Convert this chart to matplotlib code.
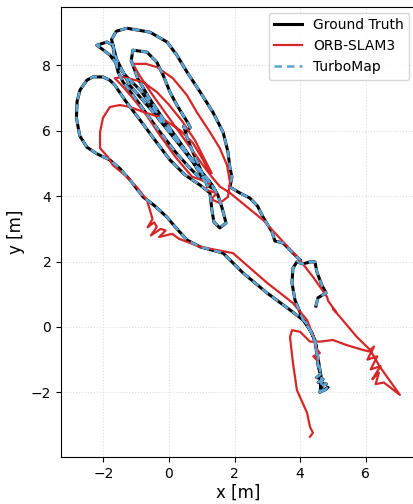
import numpy as np
import matplotlib
matplotlib.use("Agg")
import matplotlib.pyplot as plt

# Ground truth trajectory (x, y in metres)
gt_x = [4.48, 4.54, 4.79, 4.66, 4.51, 4.45, 4.30, 4.09, 3.90, 3.78, 3.75, 3.84, 4.09,
        4.36, 4.48, 4.50, 4.55, 4.62, 4.50, 4.70, 4.55, 4.80, 4.62, 4.72, 4.85, 4.60, 4.66,
        4.55, 4.45, 4.20, 4.09,
        3.69, 2.99, 2.26, 1.65, 0.95, 0.55, 0.20, -0.06, -0.45, -0.79, -1.19, -1.50, -1.80,
        -2.20, -2.50, -2.72, -2.82, -2.80, -2.71, -2.50, -2.32, -2.01, -1.80, -1.65,
        -1.34, -0.88, -0.43, 0.03, 0.49, 0.95, 1.25,
        1.31, 1.37, 1.55, 1.74, 1.62, 1.49, 1.31,
        0.95, 0.49, 0.03, -0.43, -0.88, -1.34, -1.80, -2.10, -2.20, -1.89, -1.71,
        -1.65, -1.55, -1.40, -1.10, -0.70, -0.30, 0.20, 0.60, 0.90, 1.10,
        0.70, 0.30, -0.20, -0.60, -0.95, -1.15, -1.10, -0.67, -0.37, -0.18, 0.03, 0.24,
        0.43, 0.58, 0.65, 0.55, 0.45, 0.55, 0.75, 0.95, 1.16, 1.40, 1.20,
        1.00, 0.30, -0.50, -1.20, -1.60, -1.75, -1.60, -1.28, -0.58, -0.06, 0.24, 0.55,
        0.95, 1.34, 1.65, 1.80, 1.86, 1.92, 1.86,
        2.16, 2.47, 2.70, 2.87, 3.14, 3.23, 3.48, 3.78, 4.00]
gt_y = [0.64, 0.89, 1.04, 1.28, 1.68, 1.99, 1.99, 1.93, 1.99, 1.80, 1.35, 0.83, 0.21,
        -0.18, -0.55, -0.80, -1.20, -1.45, -1.55, -1.60, -1.70, -1.75, -1.80, -1.95, -1.85,
        -2.00, -1.65, -1.00, -0.40, 0.10, 0.21,
        0.52, 1.04, 1.65, 2.26, 2.45, 2.66, 3.05, 3.36, 3.72, 3.98, 4.50, 4.85, 5.11,
        5.30, 5.50, 5.85, 6.40, 6.90, 7.25, 7.55, 7.65, 7.65, 7.55, 7.40,
        6.94, 6.33, 5.72, 5.11, 4.65, 4.34, 4.10,
        3.58, 3.21, 3.03, 3.18, 3.64, 4.04, 4.34,
        4.80, 5.41, 6.02, 6.64, 7.25, 7.71, 8.32, 8.55, 8.62, 8.72, 8.62,
        8.20, 7.80, 7.50, 7.10, 6.55, 6.00, 5.35, 4.90, 4.60, 4.45,
        5.10, 5.70, 6.40, 7.00, 7.60, 8.15, 8.47, 8.41, 8.10, 7.71, 7.19, 6.79,
        6.48, 6.24, 6.10, 6.00, 6.15, 5.80, 5.30, 4.86, 4.34, 4.20, 4.50,
        4.70, 5.60, 6.60, 7.40, 8.20, 8.80, 9.05, 9.14, 9.02, 8.72, 8.32, 7.80,
        7.19, 6.57, 5.96, 5.35, 4.86, 4.59, 4.28,
        4.10, 3.94, 3.70, 3.36, 2.91, 2.63, 2.57, 2.26, 2.05]

# TurboMap estimate: overlaps ground truth at this scale
turbo_x = gt_x
turbo_y = gt_y

# ORB-SLAM3 estimate
orb_x = [4.30, 4.39, 4.30, 4.21, 3.90, 3.78, 3.69, 3.75, 4.00, 4.30, 4.60, 5.00, 5.40,
         5.90, 6.10, 6.25, 6.05, 6.35, 6.15, 6.45, 6.20, 6.40, 6.30, 6.55, 7.04,
         6.43, 6.13, 5.73, 5.21, 5.00, 5.10, 4.85, 4.82, 4.39, 3.99, 2.87, 1.86, 1.55,
         1.30, 1.00, 0.50, 0.00, -0.50, -0.90, -1.10, -0.70, -0.37, 0.12, 0.55, 0.85,
         1.25, 1.55, 1.77, 1.86, 1.80, 1.55, 1.30, 1.45, 1.10, 1.25, 0.70, 0.20,
         -0.30, -0.70, -1.10, -1.40, -1.65, -1.40, -0.79, -0.37, 0.00, 0.40, 0.80, 1.10,
         1.30, 1.25, 1.04, 0.73, 0.34, -0.27, -0.67, -1.19, -1.49, -1.80, -2.01, -2.10,
         -2.10, -1.86, -1.71, -1.28, -0.98, -0.67, -0.50, -0.65, -0.45, -0.37, -0.55,
         -0.25, -0.10, -0.30, 0.10, 0.30, 0.95, 1.95, 2.99, 3.78, 4.21, 4.45, 4.45,
         4.60, 4.40, 4.55, 4.50]
orb_y = [-3.36, -3.24, -3.06, -2.63, -1.93, -1.10, -0.31, -0.10, -0.15, -0.45, -0.45,
         -0.40, -0.55, -0.70, -0.75, -0.60, -1.00, -0.90, -1.30, -1.20, -1.60, -1.40,
         -1.75, -1.70, -2.08,
         -1.22, -0.70, -0.31, 0.31, 0.55, 0.45, 0.80, 0.92, 1.53, 2.05, 3.27, 4.10, 4.30,
         4.60, 5.00, 5.70, 6.40, 7.10, 7.70, 8.05, 8.05, 7.95, 7.61, 7.09, 6.57,
         5.96, 5.47, 4.95, 4.43, 3.98, 3.79, 3.90, 4.10, 4.20, 4.40, 4.60, 5.20,
         5.90, 6.50, 7.00, 7.35, 7.61, 7.65, 7.49, 7.19, 6.80, 6.30, 5.70, 5.10,
         4.71, 4.71, 5.11, 5.63, 6.02, 6.42, 6.54, 6.73, 6.79, 6.73, 6.40, 5.96,
         5.47, 5.20, 4.95, 4.59, 4.28, 3.88, 3.30, 3.05, 3.20, 3.06, 2.80,
         3.00, 2.95, 2.75, 2.85, 2.70, 2.45, 2.26, 1.35, 0.73, 0.21, -0.40, -0.60,
         -0.80, -0.90, -1.05, -0.95]

fig = plt.figure(figsize=(4.13, 5.04), dpi=100)
ax = fig.add_axes([61 / 413, 47 / 504, 354 / 413, 450 / 504])

ax.plot(gt_x, gt_y, color="black", linewidth=2.2, label="Ground Truth", zorder=2)
ax.plot(orb_x, orb_y, color="#d62728", linewidth=1.6, label="ORB-SLAM3", zorder=3)
ax.plot(turbo_x, turbo_y, color="#5aa5d6", linewidth=1.8, linestyle=(0, (3, 2)),
        label="TurboMap", zorder=4)

ax.set_xlim(-3.29, 7.50)
ax.set_ylim(-3.98, 9.79)
ax.set_xticks([-2, 0, 2, 4, 6])
ax.set_yticks([-2, 0, 2, 4, 6, 8])
ax.tick_params(labelsize=10)
ax.grid(True, linestyle=":", color="#dddddd", linewidth=0.8)
ax.set_axisbelow(True)
ax.set_xlabel("x [m]", fontsize=12, labelpad=2)
ax.set_ylabel("y [m]", fontsize=12)
ax.legend(loc="upper right", fontsize=10, handlelength=2.0, borderaxespad=0.4)

fig.savefig("out.png", dpi=100)
